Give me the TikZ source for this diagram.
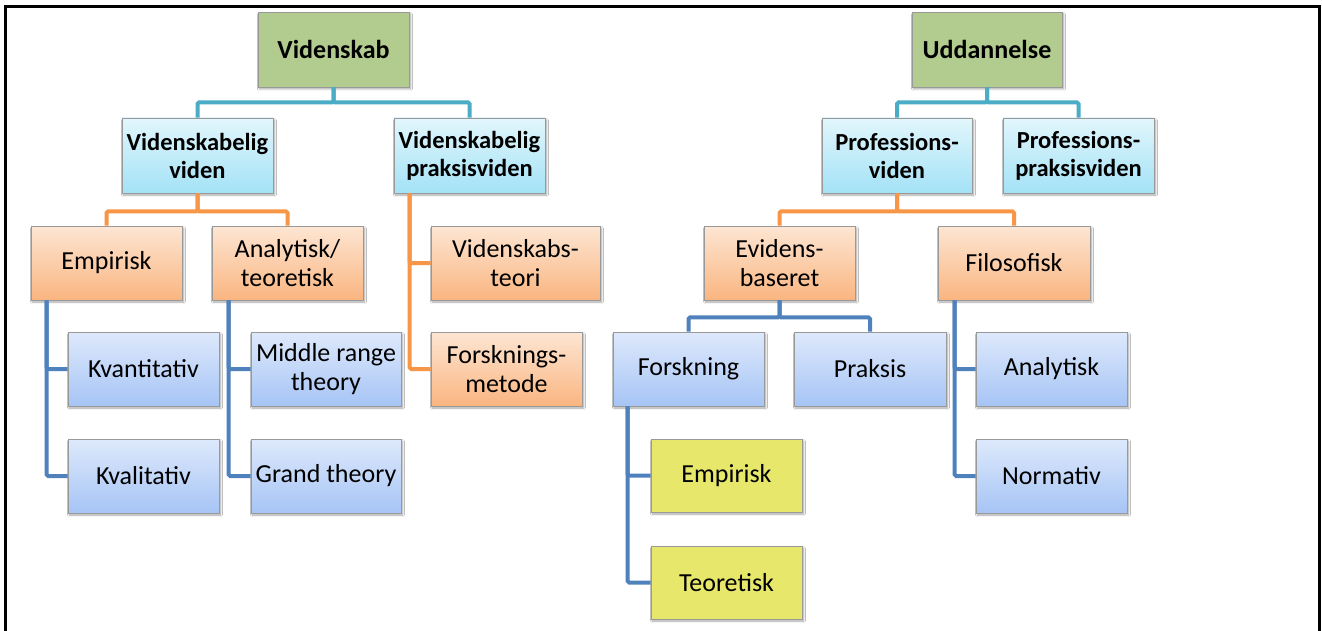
\documentclass[tikz,border=0pt]{standalone}
\usepackage{fontspec}
\setmainfont{Carlito}
\usetikzlibrary{shadows.blur}
\definecolor{lcyan}{HTML}{4BACC6}
\definecolor{lorange}{HTML}{F79646}
\definecolor{lblue}{HTML}{4F81BD}
\definecolor{fgreen}{HTML}{B2CB8E}
\definecolor{cyantop}{HTML}{E2F6FC}
\definecolor{cyanbot}{HTML}{A3E2F6}
\definecolor{orgtop}{HTML}{FDE6D3}
\definecolor{orgbot}{HTML}{FAB580}
\definecolor{blutop}{HTML}{DEE9FC}
\definecolor{blubot}{HTML}{A6C4F5}
\definecolor{fyellow}{HTML}{E6E76B}
\begin{document}
\begin{tikzpicture}[x=1pt,y=-1pt,
  box/.style={draw=black!40, line width=0.8pt, minimum width=151pt, minimum height=75pt,
    align=center, inner sep=2pt, text=black,
    font=\fontsize{26}{29}\selectfont,
    blur shadow={shadow xshift=1.5pt, shadow yshift=-2pt, shadow blur steps=6, shadow opacity=35}},
  greenbox/.style={box, fill=fgreen, font=\fontsize{26}{29}\selectfont\bfseries},
  cyanbox/.style={box, top color=cyantop, bottom color=cyanbot, font=\fontsize{24.5}{28}\selectfont\bfseries},
  orgbox/.style={box, top color=orgtop, bottom color=orgbot},
  blubox/.style={box, top color=blutop, bottom color=blubot},
  yelbox/.style={box, fill=fyellow},
  conn/.style={line width=4pt, rounded corners=1.5pt},
  cline/.style={conn, draw=lcyan},
  oline/.style={conn, draw=lorange},
  bline/.style={conn, draw=lblue}]
\useasboundingbox (0,0) rectangle (1322,631);
\fill[white] (0,0) rectangle (1322,631);
% frame
\draw[line width=3pt] (5,640) -- (5,7) -- (1319,7) -- (1319,640);

% top level
\node[greenbox] (vsk) at (333.5,49.5) {Videnskab};
\node[greenbox, minimum width=150pt] (udd) at (987,49.5) {Uddannelse};
% level 2
\node[cyanbox] (vv) at (197.5,155.5) {Videnskabelig\\viden};
\node[cyanbox] (vpv) at (469.5,155.5) {Videnskabelig\\praksisviden};
\node[cyanbox, minimum width=150pt] (pv) at (897,155.5) {Professions-\\viden};
\node[cyanbox] (ppv) at (1078.5,155.5) {Professions-\\praksisviden};
% level 3 left
\node[orgbox, minimum height=74pt] (emp) at (106.5,263) {Empirisk};
\node[orgbox, minimum height=74pt] (ana) at (287.5,263) {Analytisk/\\teoretisk};
\node[orgbox, minimum height=74pt, minimum width=169pt] (vst) at (515.5,263) {Videnskabs-\\teori};
\node[orgbox, minimum height=74pt] (fm) at (506.5,369) {Forsknings-\\metode};
\node[blubox, minimum height=74pt] (kvan) at (143.5,369) {Kvantitativ};
\node[blubox, minimum height=74pt] (kval) at (143.5,476) {Kvalitativ};
\node[blubox, minimum height=74pt, minimum width=150pt] (mrt) at (326,369) {Middle range\\theory};
\node[blubox, minimum height=74pt, minimum width=150pt] (gt) at (326,476) {Grand theory};
% level 3 right
\node[orgbox, minimum height=74pt] (evb) at (779.5,263) {Evidens-\\baseret};
\node[orgbox, minimum height=74pt, minimum width=152pt] (fil) at (1014,263) {Filosofisk};
\node[blubox, minimum height=74pt] (fors) at (688.5,369) {Forskning};
\node[blubox, minimum height=74pt, minimum width=152pt] (prak) at (870,369) {Praksis};
\node[yelbox, minimum height=73pt] (emp2) at (726.5,475.5) {Empirisk};
\node[yelbox, minimum height=73pt] (teo) at (726.5,582.5) {Teoretisk};
\node[blubox, minimum height=74pt] (anl) at (1051.5,369) {Analytisk};
\node[blubox, minimum height=74pt] (norm) at (1051.5,476) {Normativ};

% connectors
\draw[cline] (vsk.south) -- ++(0,15) -| (vv.north);
\draw[cline] (vsk.south) -- ++(0,15) -| (vpv.north);
\draw[cline] (udd.south) -- ++(0,15) -| (pv.north);
\draw[cline] (udd.south) -- ++(0,15) -| (ppv.north);

\draw[oline] (vv.south) -- ++(0,18) -| (emp.north);
\draw[oline] (vv.south) -- ++(0,18) -| (ana.north);
\draw[oline] ([xshift=16pt]vpv.south west) |- (vst.west);
\draw[oline] ([xshift=16pt]vpv.south west) |- (fm.west);
\draw[oline] (pv.south) -- ++(0,18) -| (evb.north);
\draw[oline] (pv.south) -- ++(0,18) -| (fil.north);

\draw[bline] ([xshift=16pt]emp.south west) |- (kvan.west);
\draw[bline] ([xshift=16pt]emp.south west) |- (kval.west);
\draw[bline] ([xshift=17pt]ana.south west) |- (mrt.west);
\draw[bline] ([xshift=17pt]ana.south west) |- (gt.west);
\draw[bline] (evb.south) -- ++(0,17) -| (fors.north);
\draw[bline] (evb.south) -- ++(0,17) -| (prak.north);
\draw[bline] ([xshift=15pt]fors.south west) |- (emp2.west);
\draw[bline] ([xshift=15pt]fors.south west) |- (teo.west);
\draw[bline] ([xshift=17pt]fil.south west) |- (anl.west);
\draw[bline] ([xshift=17pt]fil.south west) |- (norm.west);
\end{tikzpicture}
\end{document}
